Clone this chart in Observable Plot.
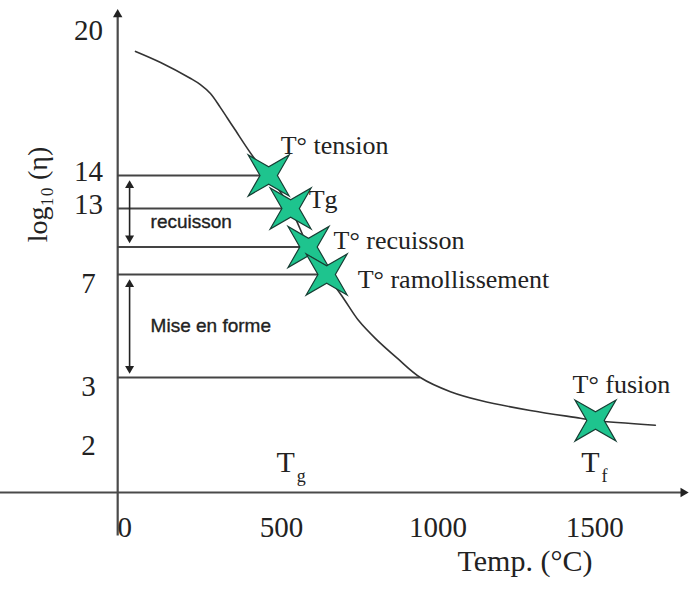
<!DOCTYPE html>
<html>
<head>
<meta charset="utf-8">
<script src="https://cdn.jsdelivr.net/npm/d3@7"></script>
<script src="https://cdn.jsdelivr.net/npm/@observablehq/plot@0.6"></script>
<style>
  html, body { margin: 0; padding: 0; background: #fff; }
  #chart svg { display: block; }
</style>
</head>
<body>
<div id="chart"></div>
<script>
// Viscosity of a glass versus temperature, with its characteristic points.

// Tick values
const yTicks = [20, 14, 13, 7, 3, 2];
const xTicks = [0, 500, 1000, 1500];

// The log-viscosity axis is schematic: each labelled level sits at its own
// drawn height above the temperature axis
const yScaleDomain = [0, 2, 3, 7, 13, 14, 20];
const yLevelHeights = [0, 56, 115, 218, 284, 317, 458];

// Viscosity curve: temperature (°C) and log10 of viscosity
const curveTemp = [44, 124, 220, 251, 283, 315, 357, 421, 469, 539, 596, 654, 708, 756, 810, 880, 953, 1049, 1145, 1304, 1464, 1512, 1703];
const curveLog = [19.28, 18.81, 18.13, 17.87, 17.49, 16.89, 16.04, 14.77, 14, 13, 9.5, 7, 6.07, 5.21, 4.51, 3.74, 3, 2.76, 2.61, 2.44, 2.31, 2.27, 2.19];

// Characteristic points on the curve
const pointNames = ["T° tension", "Tg", "T° recuisson", "T° ramollissement", "T° fusion"];
const pointTemp = [469, 539, 596, 654, 1512];
const pointLog = [14, 13, 9.5, 7, 2.27];

// Horizontal guides: level and the temperature where each one meets the curve
const guideLog = [14, 13, 9.5, 7, 3];
const guideTemp = [469, 539, 596, 654, 953];

// Working ranges shown by double arrows
const rangeNames = ["recuisson", "Mise en forme"];
const rangeTop = [14, 7];
const rangeBottom = [9.5, 3];

// Temperatures named under the curve (T with a subscript)
const axisSubscripts = ["g", "f"];
const axisSubscriptTemp = [539, 1512];

// Axis geometry (in data units)
const yAxisTemp = -13;            // where the vertical axis stands
const yAxisSpan = [-1.55, 20.85]; // vertical axis extent
const xAxisSpan = [-387, 1792];   // horizontal axis extent
const rangeArrowTemp = 25;        // column of the double arrows

const serif = '"Liberation Serif", "Times New Roman", Times, serif';
const sans = '"Liberation Sans", Arial, Helvetica, sans-serif';
const ink = "#222";
const axisInk = "#4a4a4a";

// Piecewise mapping from log-viscosity to drawn height
const schematic = d3.scaleLinear(yScaleDomain, yLevelHeights);

// Tables for the marks
const curve = curveTemp.map((t, i) => ({t, v: curveLog[i]}));
const points = pointNames.map((name, i) => ({name, t: pointTemp[i], v: pointLog[i]}));
const guides = guideLog.map((v, i) => ({v, t: guideTemp[i]}));
const ranges = rangeNames.map((name, i) => ({name, top: rangeTop[i], bottom: rangeBottom[i]}));
const subs = axisSubscripts.map((sub, i) => ({sub, t: axisSubscriptTemp[i]}));

// Four-pointed star with its tips on the diagonals
const sparkle = {
  draw(context, size) {
    const r = Math.sqrt(size / Math.PI);
    const inner = r * 0.3;
    for (let k = 0; k < 8; k++) {
      const a = Math.PI / 4 + k * Math.PI / 4;
      const rad = k % 2 === 0 ? r : inner;
      const px = rad * Math.cos(a), py = rad * Math.sin(a);
      if (k === 0) context.moveTo(px, py); else context.lineTo(px, py);
    }
    context.closePath();
  }
};

const pointLabel = (i, dx, dy) => Plot.text([points[i]], {
  x: "t", y: "v", text: "name", dx, dy,
  textAnchor: "start", fontSize: 26, fill: ink, fontFamily: serif
});

const chart = Plot.plot({
  width: 689,
  height: 592,
  marginLeft: 0,
  marginRight: 0,
  marginTop: 0,
  marginBottom: 0,
  x: {domain: [-387, 1812], axis: null},
  y: {transform: schematic, domain: [0, 492], range: [492, 0], axis: null},
  style: {fontFamily: serif, background: "#fff", color: ink, overflow: "visible"},
  marks: [
    // axes with arrowheads
    Plot.ruleY([0], {x1: xAxisSpan[0], x2: xAxisSpan[1], stroke: axisInk, strokeWidth: 2.2}),
    Plot.ruleX([yAxisTemp], {y1: yAxisSpan[0], y2: yAxisSpan[1], stroke: axisInk, strokeWidth: 2.2}),
    Plot.dot([0], {x: xAxisSpan[1], y: 0, symbol: "triangle2", r: 4.5, rotate: 90, fill: "#222", stroke: "none"}),
    Plot.dot([0], {x: yAxisTemp, y: yAxisSpan[1], symbol: "triangle2", r: 4.5, fill: "#222", stroke: "none"}),

    // horizontal guides from the axis to the curve
    Plot.ruleY(guides, {y: "v", x1: yAxisTemp, x2: "t", stroke: "#444", strokeWidth: 2}),

    // viscosity curve
    Plot.line(curve, {x: "t", y: "v", curve: "catmull-rom", stroke: "#333", strokeWidth: 1.6}),

    // double arrows for the working ranges
    Plot.ruleX(ranges, {x: rangeArrowTemp, y1: "top", y2: "bottom", insetTop: 8, insetBottom: 8, stroke: "#222", strokeWidth: 1.6}),
    Plot.dot(ranges, {x: rangeArrowTemp, y: "top", dy: 10, symbol: "triangle2", r: 4.3, fill: "#222", stroke: "none"}),
    Plot.dot(ranges, {x: rangeArrowTemp, y: "bottom", dy: -9, symbol: "triangle2", r: 4.3, rotate: 180, fill: "#222", stroke: "none"}),
    Plot.text(ranges, {
      x: rangeArrowTemp, y: d => (d.top + d.bottom) / 2, text: "name", dx: 21,
      textAnchor: "start", fontFamily: sans, fontSize: 19, fill: ink, stroke: ink, strokeWidth: 0.35
    }),

    // characteristic points
    Plot.dot(points, {x: "t", y: "v", symbol: sparkle, r: 29, fill: "#1ec48e", stroke: "#173d33", strokeWidth: 1.2}),
    pointLabel(0, 12, -30),
    pointLabel(1, 18, -9),
    pointLabel(2, 25, -6),
    pointLabel(3, 31, 5),
    pointLabel(4, -23, -36),

    // T_g and T_f above the temperature axis
    Plot.text(subs, {x: "t", y: 0, text: () => "T", dx: -5, dy: -30, fontSize: 30, fill: ink}),
    Plot.text(subs, {x: "t", y: 0, text: "sub", dx: 6, dy: -16, fontSize: 18, textAnchor: "start", fill: ink}),

    // tick labels
    Plot.text(yTicks, {filter: d => d >= 13, y: d => d, text: d => String(d), frameAnchor: "left", dx: 88, dy: -4, textAnchor: "middle", fontSize: 29, fill: ink}),
    Plot.text(yTicks, {filter: d => d < 13, y: d => d, text: d => String(d), frameAnchor: "left", dx: 88, dy: 9, textAnchor: "middle", fontSize: 29, fill: ink}),
    Plot.text(xTicks, {x: d => d, y: 0, text: d => String(d), dx: 3, dy: 35, fontSize: 29, fill: ink}),

    // axis titles
    Plot.text(["log₁₀ (η)"], {frameAnchor: "top-left", dx: 27, dy: 194, rotate: -90, textAnchor: "middle", fontSize: 28, fill: ink}),
    Plot.text(["Temp. (°C)"], {frameAnchor: "bottom", dx: 180, dy: -22, textAnchor: "middle", fontSize: 30, fill: ink})
  ]
});

document.getElementById("chart").appendChild(chart);
</script>
</body>
</html>
